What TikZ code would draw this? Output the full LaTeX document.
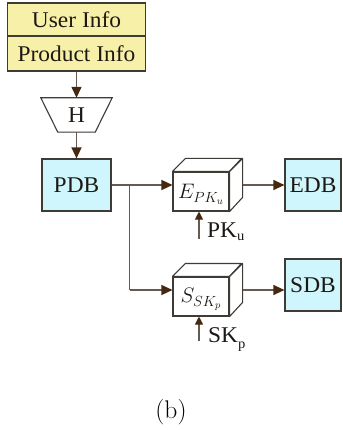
\RequirePackage{fix-cm}
\documentclass[tikz,border=0pt]{standalone}
\usepackage{fontspec}
\newfontfamily\lblfont[FakeStretch=1.04]{Liberation Serif}
\usetikzlibrary{arrows.meta,calc}

\definecolor{infoyellow}{RGB}{247,240,168}
\definecolor{dbcyan}{RGB}{206,246,252}
\definecolor{edge}{RGB}{62,58,54}
\definecolor{wire}{RGB}{104,90,78}
\definecolor{tipbrown}{RGB}{70,40,16}
\definecolor{ink}{RGB}{30,24,20}

\tikzset{
  lbl/.style={font=\lblfont\fontsize{22.5}{24}\selectfont, text=ink},
  infobox/.style={lbl, draw=edge, line width=1.2pt, fill=infoyellow,
    minimum width=138pt, inner sep=0pt},
  dbbox/.style={lbl, draw=edge, line width=1.2pt, fill=dbcyan,
    minimum height=52pt, inner sep=0pt},
  cubeface/.style={draw=edge, line width=1.1pt, fill=white,
    minimum width=56pt, minimum height=39pt, inner sep=0pt},
  cubeside/.style={draw=edge, line width=1.1pt, fill=white, line join=round},
  cubetext/.style={inner sep=0pt, text=ink, font=\fontsize{21}{23}\selectfont},
  flow/.style={draw=wire, line width=1.3pt,
    -{Triangle[length=11pt,width=10pt,color=tipbrown]}},
  keyflow/.style={draw=wire, line width=1.1pt,
    -{Triangle[length=8pt,width=8pt,color=tipbrown]}},
  wire/.style={draw=wire, line width=1.3pt},
}

\begin{document}
\begin{tikzpicture}[x=1pt,y=-1pt]
  \useasboundingbox (0,0) rectangle (342,430);

  % input records
  \node[infobox, minimum height=33pt] (user) at (76.5,19.5) {User Info};
  \node[infobox, minimum height=35pt] (prod) at (76.5,53.5) {Product Info};

  % hash block (trapezium)
  \node[lbl, minimum width=71pt, minimum height=34pt, inner sep=0pt] (H) at (76.5,115) {};
  \draw[edge, line width=1.1pt, fill=white]
    (H.north west) -- (H.north east) -- ($(H.south east)+(-17,0)$)
    -- ($(H.south west)+(17,0)$) -- cycle;
  \node[lbl] at (H.center) {H};

  % databases
  \node[dbbox, minimum width=69pt] (PDB) at (76.5,185) {PDB};
  \node[dbbox, minimum width=56pt] (EDB) at (313,185) {EDB};
  \node[dbbox, minimum width=56pt] (SDB) at (313,285) {SDB};

  % encryption cube
  \node[cubeface] (E) at (201,191.5) {};
  \draw[cubeside] (E.north west) -- ++(13,-13) -- ++(56,0) -- (E.north east) -- cycle;
  \draw[cubeside] (E.north east) -- ++(13,-13) -- ++(0,39) -- (E.south east) -- cycle;
  \node[cubetext] at ($(E.center)+(0,3)$) {$E_{PK_u}$};

  % signature cube
  \node[cubeface] (S) at (201,296.5) {};
  \draw[cubeside] (S.north west) -- ++(13,-13) -- ++(56,0) -- (S.north east) -- cycle;
  \draw[cubeside] (S.north east) -- ++(13,-13) -- ++(0,39) -- (S.south east) -- cycle;
  \node[cubetext] at ($(S.center)+(0,3)$) {$S_{SK_p}$};

  % connection points
  \coordinate (branch) at ($(PDB.east)+(18,0)$);
  \coordinate (Eout) at ($(E.east)+(13,-6.5)$);
  \coordinate (Sin) at ($(S.west)+(0,-6.5)$);
  \coordinate (Sout) at ($(S.east)+(13,-6.5)$);
  \coordinate (pkfoot) at ($(E.south)+(-2,27)$);
  \coordinate (skfoot) at ($(S.south)+(-2,24)$);

  % flow arrows
  \draw[flow] (prod.south) -- (prod.south |- H.north);
  \draw[flow] (H.south) -- (H.south |- PDB.north);
  \draw[flow] (PDB.east) -- (E.west |- PDB.east);
  \draw[wire] (branch) -- (branch |- Sin);
  \draw[flow] (branch |- Sin) -- (Sin);
  \draw[flow] (Eout) -- (EDB.west |- Eout);
  \draw[flow] (Sout) -- (SDB.west |- Sout);

  % key inputs
  \draw[keyflow] (pkfoot) -- (pkfoot |- E.south);
  \draw[keyflow] (skfoot) -- (skfoot |- S.south);
  \node[lbl, anchor=base west, inner sep=0pt] (PK) at (207,237)
    {PK\raisebox{-3pt}{\fontsize{14}{14}\selectfont u}};
  \node[lbl, anchor=base west, inner sep=0pt] (SK) at (208,342)
    {SK\raisebox{-6pt}{\fontsize{14}{14}\selectfont p}};

  % caption
  \node[inner sep=0pt, font=\fontsize{25.5}{28}\selectfont] (cap) at (171,412) {(b)};
\end{tikzpicture}
\end{document}
